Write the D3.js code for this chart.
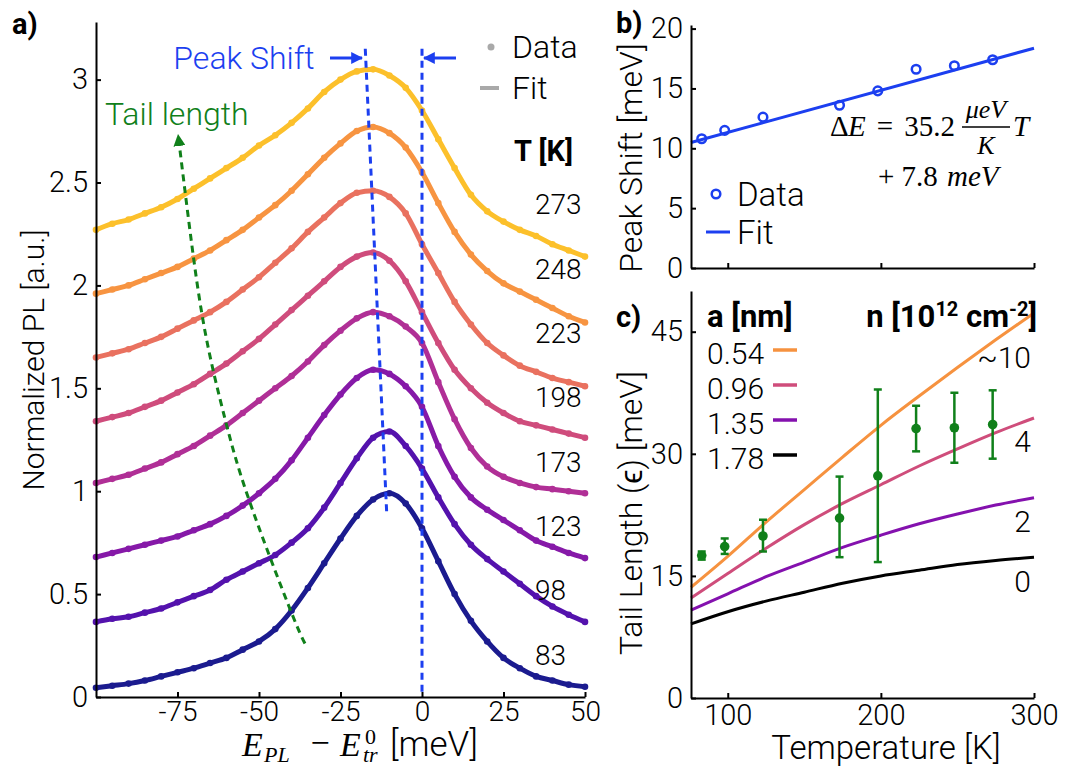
<!DOCTYPE html>
<html>
<head>
<meta charset="utf-8">
<script src="https://cdn.jsdelivr.net/npm/d3@7"></script>
<style>
  body { margin: 0; background: #fff; }
  svg text { font-family: Roboto, "Liberation Sans", sans-serif; font-weight: 300; fill: #000; }
  svg .bold { font-weight: 700; }
  svg .math { font-family: "Liberation Serif", "DejaVu Serif", serif; font-style: italic; }
  svg .mathr { font-family: "Liberation Serif", "DejaVu Serif", serif; font-style: normal; }
  .axis path, .axis line { stroke: #000; stroke-width: 2; }
</style>
</head>
<body>
<div id="chart"></div>
<script>
// ---- panel a: PL spectra (offset already included)
var energy = [-100, -95, -90, -85, -80, -75, -70, -65, -60, -55, -50, -45, -40, -35, -30, -25,
  -20, -15, -10, -5, 0, 5, 10, 15, 20, 25, 30, 35, 40, 45, 50]
var temps = [83, 98, 123, 173, 198, 223, 248, 273]
var pl83 = [0.045, 0.055, 0.065, 0.08, 0.10, 0.12, 0.14, 0.165, 0.19, 0.23, 0.27, 0.33, 0.42, 0.53, 0.65, 0.77,
  0.88, 0.96, 0.99, 0.94, 0.82, 0.66, 0.50, 0.37, 0.27, 0.19, 0.14, 0.10, 0.08, 0.06, 0.05]
var pl98 = [0.365, 0.38, 0.39, 0.41, 0.43, 0.46, 0.49, 0.52, 0.57, 0.61, 0.65, 0.69, 0.75, 0.82, 0.92, 1.04,
  1.16, 1.26, 1.29, 1.22, 1.11, 0.97, 0.84, 0.74, 0.67, 0.61, 0.55, 0.49, 0.44, 0.40, 0.365]
var pl123 = [0.68, 0.70, 0.72, 0.74, 0.76, 0.78, 0.81, 0.84, 0.88, 0.93, 0.99, 1.06, 1.15, 1.26, 1.37, 1.47,
  1.55, 1.59, 1.57, 1.51, 1.41, 1.22, 1.07, 0.97, 0.91, 0.86, 0.81, 0.76, 0.73, 0.70, 0.675]
var pl173 = [1.04, 1.06, 1.08, 1.11, 1.14, 1.18, 1.22, 1.27, 1.32, 1.38, 1.44, 1.50, 1.56, 1.63, 1.71, 1.78,
  1.84, 1.87, 1.85, 1.80, 1.72, 1.53, 1.35, 1.21, 1.12, 1.07, 1.04, 1.02, 1.01, 1.00, 0.99]
var pl198 = [1.34, 1.36, 1.38, 1.41, 1.44, 1.48, 1.52, 1.57, 1.62, 1.68, 1.74, 1.81, 1.88, 1.95, 2.02, 2.09,
  2.14, 2.16, 2.12, 2.02, 1.87, 1.72, 1.59, 1.50, 1.43, 1.38, 1.34, 1.32, 1.30, 1.28, 1.26]
var pl223 = [1.65, 1.67, 1.69, 1.72, 1.75, 1.79, 1.83, 1.87, 1.92, 1.98, 2.04, 2.11, 2.18, 2.26, 2.33, 2.40,
  2.45, 2.46, 2.43, 2.35, 2.20, 2.06, 1.92, 1.81, 1.72, 1.66, 1.61, 1.58, 1.55, 1.53, 1.51]
var pl248 = [1.96, 1.98, 2.00, 2.03, 2.06, 2.09, 2.13, 2.17, 2.22, 2.27, 2.33, 2.39, 2.46, 2.54, 2.62, 2.69,
  2.75, 2.77, 2.74, 2.67, 2.55, 2.40, 2.26, 2.15, 2.07, 2.01, 1.97, 1.93, 1.89, 1.85, 1.82]
var pl273 = [2.27, 2.30, 2.32, 2.35, 2.38, 2.42, 2.47, 2.52, 2.57, 2.62, 2.68, 2.73, 2.79, 2.86, 2.94, 3.00,
  3.04, 3.05, 3.02, 2.96, 2.85, 2.71, 2.57, 2.44, 2.36, 2.31, 2.27, 2.24, 2.20, 2.17, 2.14]
var spectra = [pl83, pl98, pl123, pl173, pl198, pl223, pl248, pl273]
var spectraColors = ["#1b1b8f", "#5412ad", "#8619a8", "#b02f96", "#cf4c7c", "#e9715f", "#f79441", "#fcc02b"]
var energyTicks = [-75, -50, -25, 0, 25, 50]
var plTicks = [0, 0.5, 1, 1.5, 2, 2.5, 3]

// tail length guide (meV, normalized PL), drawn bottom to top
var tailGuideE = [-35.9, -40.8, -53.1, -60.4, -66.6, -71.2, -74.8]
var tailGuidePL = [0.26, 0.44, 0.96, 1.35, 1.78, 2.27, 2.73]

// ---- panel b: peak shift
var peakShift = [10.8, 11.5, 12.6, 13.6, 14.8, 16.6, 16.9, 17.4]
var fitT = [76, 300]
var fitShift = [10.48, 18.36]
var shiftTicks = [0, 5, 10, 15, 20]

// ---- panel c: tail length
var tailLength = [17.5, 18.6, 19.9, 22.1, 27.3, 33.1, 33.2, 33.6]
var tailLow = [17.0, 17.7, 18.0, 17.3, 16.7, 30.3, 28.9, 29.4]
var tailHigh = [18.0, 19.6, 21.9, 27.2, 37.9, 35.9, 37.5, 37.8]
var modelT = [76, 100, 125, 150, 175, 200, 225, 250, 275, 300]
var model054 = [13.6, 17.4, 21.6, 25.6, 29.6, 33.5, 37.1, 40.6, 44.0, 47.3]
var model096 = [12.3, 15.3, 18.4, 21.3, 23.9, 26.2, 28.5, 30.6, 32.6, 34.4]
var model135 = [10.8, 12.8, 14.9, 16.7, 18.5, 20.0, 21.4, 22.6, 23.7, 24.6]
var model178 = [9.1, 10.6, 11.9, 13.0, 14.1, 15.0, 15.7, 16.4, 16.9, 17.3]
var models = [model054, model096, model135, model178]
var spacingLabels = ["0.54", "0.96", "1.35", "1.78"]
var densityLabels = ["~10", "4", "2", "0"]
var modelColors = ["#f6923f", "#cf4d7b", "#8411ae", "#000000"]
var tempTicks = [100, 200, 300]
var tailTicks = [0, 15, 30, 45]

var blue = "#1c3ff0", green = "#10801a", gray = "#a9a9a9"

var svg = d3.select("#chart").append("svg")
  .attr("width", 1083)
  .attr("height", 769)

// =========== panel a
var xA = d3.scaleLinear().domain([-100, 50]).range([96, 585])
var yA = d3.scaleLinear().domain([0, 3.28]).range([697, 22])

var line = d3.line()
  .x(function (d, i) { return xA(energy[i]) })
  .y(function (d) { return yA(d) })
  .curve(d3.curveMonotoneX)

spectra.forEach(function (s, k) {
  var g = svg.append("g")
  g.append("path")
    .datum(s)
    .attr("d", line)
    .attr("fill", "none")
    .attr("stroke", spectraColors[k])
    .attr("stroke-width", 5)
  g.selectAll("circle")
    .data(s)
    .enter().append("circle")
    .attr("cx", function (d, i) { return xA(energy[i]) })
    .attr("cy", function (d) { return yA(d) })
    .attr("r", 3.3)
    .attr("fill", spectraColors[k])
  // temperature labels, evenly stacked above the right ends
  svg.append("text")
    .attr("x", 535)
    .attr("y", yA(pl83[pl83.length - 1]) - 32 - k * 64.3)
    .attr("dy", "0.35em")
    .attr("font-size", 28)
    .text(temps[k])
})

// peak shift dashed guides
svg.append("line")
  .attr("x1", xA(-peakShift[7])).attr("y1", yA(3.15))
  .attr("x2", xA(-peakShift[0])).attr("y2", yA(0.885))
  .attr("stroke", blue).attr("stroke-width", 3).attr("stroke-dasharray", "7,5")
svg.append("line")
  .attr("x1", xA(0)).attr("y1", yA(3.15))
  .attr("x2", xA(0)).attr("y2", yA(0))
  .attr("stroke", blue).attr("stroke-width", 3).attr("stroke-dasharray", "7,5")

// tail length guide
var defs = svg.append("defs")
function arrowMarker(id, color) {
  defs.append("marker")
    .attr("id", id)
    .attr("viewBox", "0 0 10 10")
    .attr("refX", 9).attr("refY", 5)
    .attr("markerWidth", 4).attr("markerHeight", 4)
    .attr("orient", "auto")
    .append("path")
    .attr("d", "M0,0L10,5L0,10z")
    .attr("fill", color)
}
arrowMarker("arrowGreen", green)
arrowMarker("arrowBlue", blue)

svg.append("path")
  .datum(tailGuideE)
  .attr("d", d3.line()
    .x(function (d) { return xA(d) })
    .y(function (d, i) { return yA(tailGuidePL[i]) })
    .curve(d3.curveNatural))
  .attr("fill", "none")
  .attr("stroke", green).attr("stroke-width", 3).attr("stroke-dasharray", "7,5")
  .attr("marker-end", "url(#arrowGreen)")

svg.append("text").attr("x", 105).attr("y", 125).attr("font-size", 32)
  .style("fill", green).text("Tail length")

// peak shift label + arrows
svg.append("text").attr("x", 244).attr("y", 58).attr("dy", "0.35em").attr("font-size", 32)
  .attr("text-anchor", "middle").style("fill", blue).text("Peak Shift")
svg.append("line").attr("x1", 330).attr("y1", 58).attr("x2", 362).attr("y2", 58)
  .attr("stroke", blue).attr("stroke-width", 3).attr("marker-end", "url(#arrowBlue)")
svg.append("line").attr("x1", 456).attr("y1", 58).attr("x2", 424).attr("y2", 58)
  .attr("stroke", blue).attr("stroke-width", 3).attr("marker-end", "url(#arrowBlue)")

// legend a
svg.append("circle").attr("cx", 491).attr("cy", 47).attr("r", 3.5).attr("fill", gray)
svg.append("text").attr("x", 512).attr("y", 47).attr("dy", "0.35em").attr("font-size", 32).text("Data")
svg.append("line").attr("x1", 480).attr("y1", 88).attr("x2", 499).attr("y2", 88)
  .attr("stroke", gray).attr("stroke-width", 4)
svg.append("text").attr("x", 512).attr("y", 88).attr("dy", "0.35em").attr("font-size", 32).text("Fit")
svg.append("text").attr("class", "bold").attr("x", 514).attr("y", 151).attr("dy", "0.35em")
  .attr("font-size", 29).text("T [K]")

// axes a
svg.append("g")
  .attr("class", "axis xa")
  .attr("transform", "translate(0,697)")
  .call(d3.axisBottom(xA).tickValues(energyTicks).tickSizeInner(-5).tickSizeOuter(0)
    .tickPadding(4).tickFormat(function (d) { return String(d) }))
svg.append("g")
  .attr("class", "axis")
  .attr("transform", "translate(96,0)")
  .call(d3.axisLeft(yA).tickValues(plTicks).tickSizeInner(-5).tickSizeOuter(0)
    .tickPadding(8).tickFormat(function (d) { return String(d) }))

svg.append("text")
  .attr("transform", "translate(44,360) rotate(-90)")
  .attr("text-anchor", "middle").attr("font-size", 30)
  .text("Normalized PL [a.u.]")

// x title of panel a: E_PL - E^0_tr [meV]
var xTitle = svg.append("g")
xTitle.append("text").attr("class", "math").attr("x", 242).attr("y", 756).attr("font-size", 34).text("E")
xTitle.append("text").attr("class", "math").attr("x", 264).attr("y", 762).attr("font-size", 22).text("PL")
xTitle.append("text").attr("class", "mathr").attr("x", 320).attr("y", 754).attr("font-size", 34)
  .attr("text-anchor", "middle").text("\u2212")
xTitle.append("text").attr("class", "math").attr("x", 340).attr("y", 756).attr("font-size", 34).text("E")
xTitle.append("text").attr("class", "mathr").attr("x", 365).attr("y", 744).attr("font-size", 22).text("0")
xTitle.append("text").attr("class", "math").attr("x", 363).attr("y", 762).attr("font-size", 22).text("tr")
xTitle.append("text").attr("x", 390).attr("y", 756).attr("font-size", 35).text("[meV]")

svg.append("text").attr("class", "bold").attr("x", 12).attr("y", 34).attr("font-size", 29).text("a)")

// =========== panel b
var xB = d3.scaleLinear().domain([76, 300]).range([691, 1034])
var yB = d3.scaleLinear().domain([0, 20.3]).range([268, 25])

svg.append("path")
  .datum(fitT)
  .attr("d", d3.line()
    .x(function (d) { return xB(d) })
    .y(function (d, i) { return yB(fitShift[i]) }))
  .attr("stroke", blue).attr("stroke-width", 3).attr("fill", "none")

svg.selectAll(".shift")
  .data(peakShift)
  .enter().append("circle")
  .attr("class", "shift")
  .attr("cx", function (d, i) { return xB(temps[i]) })
  .attr("cy", function (d) { return yB(d) })
  .attr("r", 4.3)
  .attr("fill", "none").attr("stroke", blue).attr("stroke-width", 2.5)

svg.append("g")
  .attr("class", "axis")
  .attr("transform", "translate(0,268)")
  .call(d3.axisBottom(xB).tickValues(tempTicks).tickSizeInner(-5).tickSizeOuter(0)
    .tickFormat(""))
svg.append("g")
  .attr("class", "axis")
  .attr("transform", "translate(691,0)")
  .call(d3.axisLeft(yB).tickValues(shiftTicks).tickSizeInner(-5).tickSizeOuter(0).tickPadding(8))

svg.append("text")
  .attr("transform", "translate(642,158) rotate(-90)")
  .attr("text-anchor", "middle").attr("font-size", 32)
  .text("Peak Shift [meV]")
svg.append("text").attr("class", "bold").attr("x", 616).attr("y", 33).attr("font-size", 29).text("b)")

// legend b
svg.append("circle").attr("cx", 716).attr("cy", 194).attr("r", 4.3)
  .attr("fill", "none").attr("stroke", blue).attr("stroke-width", 2.5)
svg.append("text").attr("x", 737).attr("y", 194).attr("dy", "0.35em").attr("font-size", 33).text("Data")
svg.append("line").attr("x1", 706).attr("y1", 232).attr("x2", 730).attr("y2", 232)
  .attr("stroke", blue).attr("stroke-width", 3)
svg.append("text").attr("x", 737).attr("y", 232).attr("dy", "0.35em").attr("font-size", 33).text("Fit")

// equation
svg.append("text").attr("class", "mathr").attr("x", 830).attr("y", 136).attr("font-size", 29).text("\u0394")
svg.append("text").attr("class", "math").attr("x", 848).attr("y", 136).attr("font-size", 29).text("E")
svg.append("text").attr("class", "mathr").attr("x", 885).attr("y", 136).attr("font-size", 29)
  .attr("text-anchor", "middle").text("=")
svg.append("text").attr("class", "mathr").attr("x", 955).attr("y", 136).attr("font-size", 29)
  .attr("text-anchor", "end").text("35.2")
svg.append("text").attr("x", 986).attr("y", 118).attr("font-size", 26)
  .attr("text-anchor", "middle").attr("class", "math").text("\u03bceV")
svg.append("line").attr("x1", 962).attr("y1", 127).attr("x2", 1010).attr("y2", 127)
  .attr("stroke", "#000").attr("stroke-width", 1.3)
svg.append("text").attr("x", 986).attr("y", 154).attr("font-size", 26)
  .attr("text-anchor", "middle").attr("class", "math").text("K")
svg.append("text").attr("x", 1013).attr("y", 136).attr("font-size", 29).attr("class", "math").text("T")
svg.append("text").attr("class", "mathr").attr("x", 878).attr("y", 186).attr("font-size", 29).text("+ 7.8")
svg.append("text").attr("class", "math").attr("x", 947).attr("y", 186).attr("font-size", 29).text("meV")

// =========== panel c
var xC = d3.scaleLinear().domain([76, 300]).range([691, 1034])
var yC = d3.scaleLinear().domain([0, 50]).range([698, 291])

var modelLine = d3.line()
  .x(function (d, i) { return xC(modelT[i]) })
  .y(function (d) { return yC(d) })
  .curve(d3.curveMonotoneX)

models.forEach(function (m, k) {
  svg.append("path")
    .datum(m)
    .attr("d", modelLine)
    .attr("fill", "none")
    .attr("stroke", modelColors[k])
    .attr("stroke-width", 3)
  svg.append("text")
    .attr("x", 1031)
    .attr("y", yC(m[m.length - 1]) + (k === 0 ? 45 : 24))
    .attr("dy", "0.35em")
    .attr("text-anchor", "end")
    .attr("font-size", 30)
    .text(densityLabels[k])
  svg.append("text")
    .attr("x", 707)
    .attr("y", 353 + k * 35)
    .attr("dy", "0.35em")
    .attr("font-size", 30)
    .text(spacingLabels[k])
  svg.append("line")
    .attr("x1", 773).attr("x2", 797)
    .attr("y1", 350 + k * 35).attr("y2", 350 + k * 35)
    .attr("stroke", modelColors[k]).attr("stroke-width", 3.5)
})

// error bars
var eb = svg.selectAll(".err")
  .data(tailLength)
  .enter().append("g")
  .attr("class", "err")
eb.append("line")
  .attr("x1", function (d, i) { return xC(temps[i]) })
  .attr("x2", function (d, i) { return xC(temps[i]) })
  .attr("y1", function (d, i) { return yC(tailLow[i]) })
  .attr("y2", function (d, i) { return yC(tailHigh[i]) })
  .attr("stroke", green).attr("stroke-width", 2.5)
eb.append("line")
  .attr("x1", function (d, i) { return xC(temps[i]) - 4 })
  .attr("x2", function (d, i) { return xC(temps[i]) + 4 })
  .attr("y1", function (d, i) { return yC(tailLow[i]) })
  .attr("y2", function (d, i) { return yC(tailLow[i]) })
  .attr("stroke", green).attr("stroke-width", 2.5)
eb.append("line")
  .attr("x1", function (d, i) { return xC(temps[i]) - 4 })
  .attr("x2", function (d, i) { return xC(temps[i]) + 4 })
  .attr("y1", function (d, i) { return yC(tailHigh[i]) })
  .attr("y2", function (d, i) { return yC(tailHigh[i]) })
  .attr("stroke", green).attr("stroke-width", 2.5)
eb.append("circle")
  .attr("cx", function (d, i) { return xC(temps[i]) })
  .attr("cy", function (d) { return yC(d) })
  .attr("r", 4.8)
  .attr("fill", green)

svg.append("g")
  .attr("class", "axis")
  .attr("transform", "translate(0,698)")
  .call(d3.axisBottom(xC).tickValues(tempTicks).tickSizeInner(-5).tickSizeOuter(0).tickPadding(6))
svg.append("g")
  .attr("class", "axis")
  .attr("transform", "translate(691,0)")
  .call(d3.axisLeft(yC).tickValues(tailTicks).tickSizeInner(-5).tickSizeOuter(0).tickPadding(8))

svg.selectAll(".axis text").attr("font-size", 29).style("font-family", "Roboto, 'Liberation Sans', sans-serif")
svg.selectAll(".xa text").attr("font-size", 28)

svg.append("text")
  .attr("transform", "translate(642,513) rotate(-90)")
  .attr("text-anchor", "middle").attr("font-size", 32)
  .text("Tail Length (\u03f5) [meV]")
svg.append("text")
  .attr("x", 886).attr("y", 759)
  .attr("text-anchor", "middle").attr("font-size", 33)
  .text("Temperature [K]")
svg.append("text").attr("class", "bold").attr("x", 616).attr("y", 327).attr("font-size", 29).text("c)")

svg.append("text").attr("class", "bold").attr("x", 707).attr("y", 327).attr("font-size", 31).text("a [nm]")
var nl = svg.append("text").attr("class", "bold").attr("x", 1037).attr("y", 327)
  .attr("text-anchor", "end").attr("font-size", 31)
nl.append("tspan").text("n [10")
nl.append("tspan").attr("font-size", 20).attr("dy", -11).text("12")
nl.append("tspan").attr("dy", 11).text(" cm")
nl.append("tspan").attr("font-size", 20).attr("dy", -11).text("-2")
nl.append("tspan").attr("dy", 11).text("]")
</script>
</body>
</html>
